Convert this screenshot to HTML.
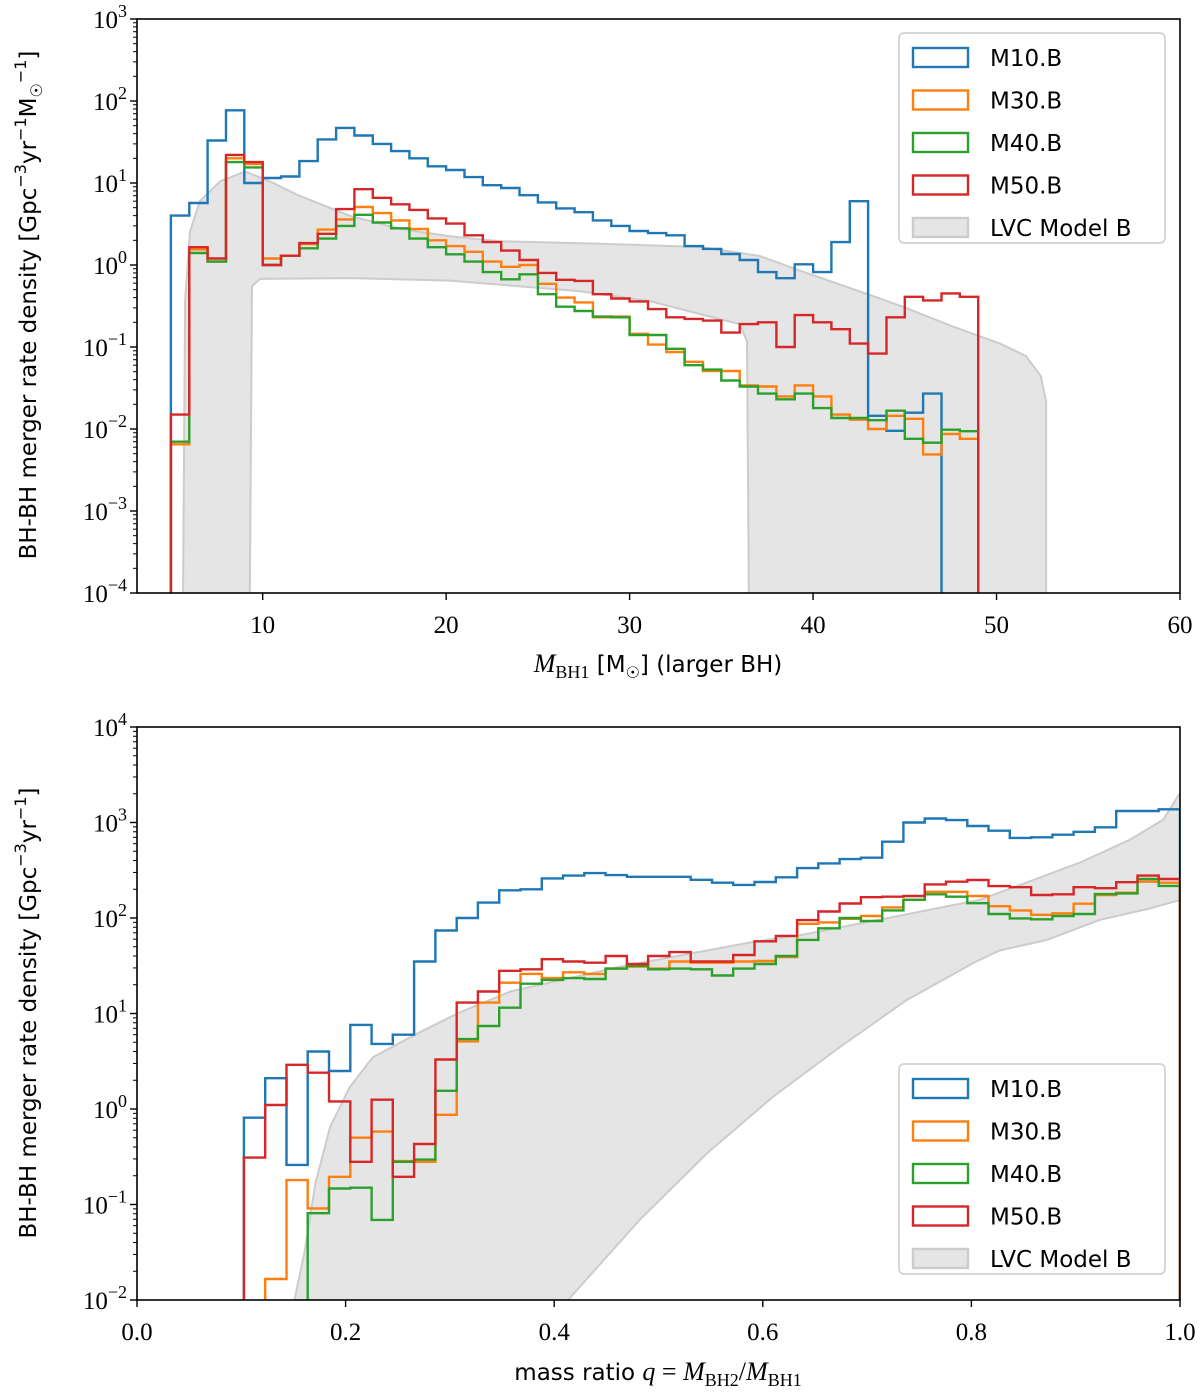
<!DOCTYPE html>
<html><head><meta charset="utf-8"><style>
html,body{margin:0;padding:0;background:#fff;}
svg{display:block;}
.tk{font-family:"Liberation Serif","DejaVu Serif",serif;font-size:25px;fill:#000;}
.lab{font-family:"DejaVu Sans","Liberation Sans",sans-serif;font-size:23px;fill:#000;}
.leg{font-family:"DejaVu Sans","Liberation Sans",sans-serif;font-size:23px;fill:#000;}
</style></head><body>
<svg id="fig" width="1200" height="1394" viewBox="0 0 1200 1394" xmlns="http://www.w3.org/2000/svg">
<defs>
<clipPath id="clipTop"><rect x="137" y="19" width="1043" height="574"/></clipPath>
<clipPath id="clipBot"><rect x="137" y="727" width="1043" height="573"/></clipPath>
</defs>
<g id="top"></g>
<g id="bot"></g>
</svg>
<script>
// ---------- TOP PANEL DATA ----------
const topBinStart = 5;
const topM10 = [4.0,5.7,33,77,10,11.5,12,18.5,34,47,38,30,24.5,20,16,14.4,11.8,9.4,8.7,7.1,5.8,4.9,4.4,3.5,3.0,2.6,2.45,2.3,1.7,1.57,1.36,1.15,0.82,0.69,1.02,0.82,1.9,6.0,0.0145,0.0095,0.0158,0.027];
const topM30 = [0.0065,1.55,1.1,20,17,1.2,1.3,1.8,2.7,3.6,5.1,4.3,3.5,2.75,2.0,1.7,1.45,1.1,0.95,1.0,0.59,0.4,0.35,0.23,0.235,0.145,0.107,0.087,0.066,0.051,0.051,0.034,0.033,0.025,0.034,0.025,0.015,0.013,0.010,0.0145,0.0133,0.0049,0.0087,0.0076];
const topM40 = [0.007,1.4,1.1,18,15.5,1.0,1.3,1.6,2.1,3.0,4.1,3.3,2.8,2.1,1.65,1.35,1.1,0.82,0.67,0.77,0.44,0.31,0.275,0.235,0.23,0.14,0.14,0.095,0.06,0.053,0.039,0.033,0.027,0.023,0.027,0.018,0.0136,0.0136,0.0128,0.0167,0.0076,0.0068,0.0098,0.0094];
const topM50 = [0.015,1.65,1.2,22,18,1.0,1.3,1.85,2.4,4.8,8.4,6.6,5.5,4.7,3.7,3.2,2.3,1.9,1.5,1.15,0.8,0.66,0.64,0.44,0.39,0.36,0.29,0.23,0.22,0.21,0.15,0.19,0.2,0.10,0.245,0.2,0.165,0.11,0.083,0.23,0.41,0.37,0.45,0.41];
const topBandM = [5.66,5.77,6.04,6.58,7.68,9.04,10.4,12.04,14.76,17.5,20.2,22.9,28.4,33.85,37.1,39.3,42.0,44.8,47.5,50.2,51.6,52.4,52.7,52.7,36.5,36.4,36.0,34.9,31.1,27.3,20.2,14.8,9.86,9.42,9.3];
const topBandLog = [-4.1,-0.44,0.41,0.78,1.02,1.14,1.02,0.84,0.60,0.44,0.35,0.29,0.26,0.22,0.11,-0.07,-0.28,-0.50,-0.74,-0.96,-1.11,-1.35,-1.66,-4.1,-4.1,-0.93,-0.72,-0.66,-0.44,-0.32,-0.19,-0.16,-0.17,-0.26,-4.1];
const topXTicks = [10,20,30,40,50,60];
const topYExp = [-4,-3,-2,-1,0,1,2,3];

// ---------- BOTTOM PANEL DATA ----------
const botQStart = 0.1025, botQEnd = 1.0;
const botM10 = [0.81,2.1,0.26,4.0,2.5,7.6,4.8,6.0,35,74,100,145,195,200,260,278,295,281,270,270,270,251,234,222,238,267,333,373,414,428,630,1000,1100,1060,920,820,690,700,745,800,890,1320,1320,1375];
const botM30 = [0.001,0.0166,0.18,0.091,0.195,0.5,0.58,0.285,0.28,0.87,5.1,13,21,26,23.5,27,26,29.5,31,29.5,35,34,34,35,35.5,39,87,90,98,105,129,155,188,188,170,133,120,108,112,141,174,184,240,234];
const botM40 = [0.001,0.001,0.001,0.081,0.147,0.15,0.069,0.28,0.295,1.55,5.4,7.4,11.5,20.5,22.5,23.5,23,29.5,31.5,29,29.5,29,25,29.5,33,40,59,78,100,93,120,155,177,167,143,110,99,97,105,110,178,181,256,217];
const botM50 = [0.31,1.1,2.9,2.4,1.2,0.28,1.25,0.195,0.43,3.3,13,17,28,29,37,35,34,40,33,40,44,35,35,41,57,65,95,117,142,165,167,170,225,240,250,216,210,174,177,210,205,237,278,256];
const botBandQ = [0.150,0.161,0.171,0.185,0.204,0.226,0.265,0.307,0.358,0.463,0.591,0.636,0.808,0.904,0.952,0.984,1.0,1.0,0.971,0.923,0.872,0.827,0.802,0.738,0.674,0.610,0.547,0.482,0.415,0.410];
const botBandLog = [-2.05,-1.48,-0.78,-0.19,0.23,0.54,0.77,1.0,1.23,1.49,1.75,1.82,2.19,2.58,2.82,3.03,3.31,2.19,2.10,1.98,1.77,1.66,1.53,1.14,0.65,0.13,-0.46,-1.16,-1.98,-2.05];
const botXTicks = [0.0,0.2,0.4,0.6,0.8,1.0];
const botXTickLabels = ["0.0","0.2","0.4","0.6","0.8","1.0"];
const botYExp = [-2,-1,0,1,2,3,4];

const seriesNames = ["M10.B","M30.B","M40.B","M50.B"];
const colors = ["#1f77b4","#ff7f0e","#2ca02c","#d62728"];
const NS = "http://www.w3.org/2000/svg";

function mk(parent, tag, attrs){
  const e = document.createElementNS(NS, tag);
  for (const k in attrs) e.setAttribute(k, attrs[k]);
  parent.appendChild(e);
  return e;
}

function panel(g, cfg){
  const L=cfg.L, R=cfg.R, T=cfg.T, B=cfg.B;
  const xs = v => L + (v-cfg.xmin)/(cfg.xmax-cfg.xmin)*(R-L);
  const ysLog = lg => B - (lg-cfg.ymin)/(cfg.ymax-cfg.ymin)*(B-T);
  const ys = v => ysLog(Math.max(Math.log10(v), cfg.ymin-1));
  const plot = mk(g,'g',{'clip-path':'url(#'+cfg.clip+')'});
  
  
  let d='';
  cfg.bandX.forEach((x,i)=>{ d += (i?'L':'M')+xs(x).toFixed(1)+' '+ysLog(cfg.bandLog[i]).toFixed(1)+' '; });
  const band = mk(plot,'path',{d:d+'Z',fill:'#e5e5e5',stroke:'#cccccc','stroke-width':'2'});
  
  
  cfg.series.forEach((vals,si)=>{
    const edge = i => cfg.edge(i);
    let p = 'M'+xs(edge(0)).toFixed(1)+' '+(B+20)+' ';
    vals.forEach((v,i)=>{
      const y = ys(v).toFixed(1);
      p += 'L'+xs(edge(i)).toFixed(1)+' '+y+' L'+xs(edge(i+1)).toFixed(1)+' '+y+' ';
    });
    p += 'L'+xs(edge(vals.length)).toFixed(1)+' '+(B+20);
    const path = mk(plot,'path',{d:p,fill:'none',stroke:colors[si],'stroke-width':'2.4','stroke-linejoin':'miter'});
    
    
  });
  const fr = mk(g,'rect',{x:L,y:T,width:R-L,height:B-T,fill:'none',stroke:'#000','stroke-width':'1.6'});
  
  
  cfg.xticks.forEach((t,i)=>{
    const x = xs(t);
    mk(g,'line',{x1:x,x2:x,y1:B,y2:B+7,stroke:'#000','stroke-width':'1.4'});
    const tx = mk(g,'text',{x:x,y:B+cfg.xlabOff,'text-anchor':'middle','class':'tk'});
    tx.textContent = cfg.xtickLabels[i];
    
    
  });
  cfg.yexp.forEach(e=>{
    const y = ysLog(e);
    mk(g,'line',{x1:L-7,x2:L,y1:y,y2:y,stroke:'#000','stroke-width':'1.4'});
    if (e < cfg.ymax) for (let m=2;m<10;m++){
      const ym = ysLog(e+Math.log10(m));
      mk(g,'line',{x1:L-4,x2:L,y1:ym,y2:ym,stroke:'#000','stroke-width':'1'});
    }
    const tx = mk(g,'text',{x:L-10,y:y+9,'text-anchor':'end','class':'tk'});
    
    
    const a = mk(tx,'tspan',{}); a.textContent='10';
    const b = mk(tx,'tspan',{dy:'-11','font-size':'18'}); b.textContent = (e<0?'\u2212'+(-e):''+e);
  });
  const lg = mk(g,'g',{});
  
  
  mk(lg,'rect',{x:899,y:cfg.legY,width:266,height:210,rx:5,fill:'#fff','fill-opacity':'0.8',stroke:'#cccccc','stroke-width':'1.5'});
  const labels = seriesNames.concat(["LVC Model B"]);
  labels.forEach((lab,i)=>{
    const cy = cfg.legY+24+i*42.5;
    const sw = mk(lg,'rect',{x:913,y:cy-9,width:55,height:19,fill:i<4?'none':'#e5e5e5',stroke:i<4?colors[i]:'#cccccc','stroke-width':'2.4'});
    
    
    const t = mk(lg,'text',{x:990,y:cy+9,'class':'leg'});
    t.textContent = lab;
    
    
  });
}

const topG = document.getElementById('top');
panel(topG,{id:'top',L:137,R:1180,T:19,B:593,xmin:3.15,xmax:60,ymin:-4,ymax:3,clip:'clipTop',
  series:[topM10,topM30,topM40,topM50], edge:i=>topBinStart+i,
  bandX:topBandM, bandLog:topBandLog, xticks:topXTicks, xtickLabels:topXTicks.map(String),
  yexp:topYExp, xlabOff:40, legY:33});
const botG = document.getElementById('bot');
const bw = (botQEnd-botQStart)/botM10.length;
panel(botG,{id:'bottom',L:137,R:1180,T:727,B:1300,xmin:0,xmax:1,ymin:-2,ymax:4,clip:'clipBot',
  series:[botM10,botM30,botM40,botM50], edge:i=>botQStart+i*bw,
  bandX:botBandQ, bandLog:botBandLog, xticks:botXTicks, xtickLabels:botXTickLabels,
  yexp:botYExp, xlabOff:40, legY:1064});
</script>
<svg style="position:absolute;left:0;top:0" width="1200" height="1394" xmlns="http://www.w3.org/2000/svg">
<text class="lab" transform="translate(36,305) rotate(-90)" text-anchor="middle">BH-BH merger rate density [Gpc<tspan dy="-10" font-size="16">−3</tspan><tspan dy="10">yr</tspan><tspan dy="-10" font-size="16">−1</tspan><tspan dy="10">M</tspan><tspan dy="6" font-size="16">☉</tspan><tspan dy="-16" font-size="16">−1</tspan><tspan dy="10">]</tspan></text>
<text class="lab" x="658" y="672" text-anchor="middle"><tspan font-family="Liberation Serif, serif" font-style="italic" font-size="26">M</tspan><tspan font-family="Liberation Serif, serif" font-size="18" dy="6">BH1</tspan><tspan dy="-6"> [M</tspan><tspan dy="6" font-size="16">☉</tspan><tspan dy="-6">] (larger BH)</tspan></text>
<text class="lab" transform="translate(36,1013) rotate(-90)" text-anchor="middle">BH-BH merger rate density [Gpc<tspan dy="-10" font-size="16">−3</tspan><tspan dy="10">yr</tspan><tspan dy="-10" font-size="16">−1</tspan><tspan dy="10">]</tspan></text>
<text class="lab" x="658" y="1380" text-anchor="middle">mass ratio <tspan font-family="Liberation Serif, serif" font-style="italic" font-size="26">q</tspan><tspan font-family="Liberation Serif, serif" font-size="26"> = </tspan><tspan font-family="Liberation Serif, serif" font-style="italic" font-size="26">M</tspan><tspan font-family="Liberation Serif, serif" font-size="18" dy="6">BH2</tspan><tspan font-family="Liberation Serif, serif" font-size="26" dy="-6">/</tspan><tspan font-family="Liberation Serif, serif" font-style="italic" font-size="26">M</tspan><tspan font-family="Liberation Serif, serif" font-size="18" dy="6">BH1</tspan></text>
</svg>
</body></html>
